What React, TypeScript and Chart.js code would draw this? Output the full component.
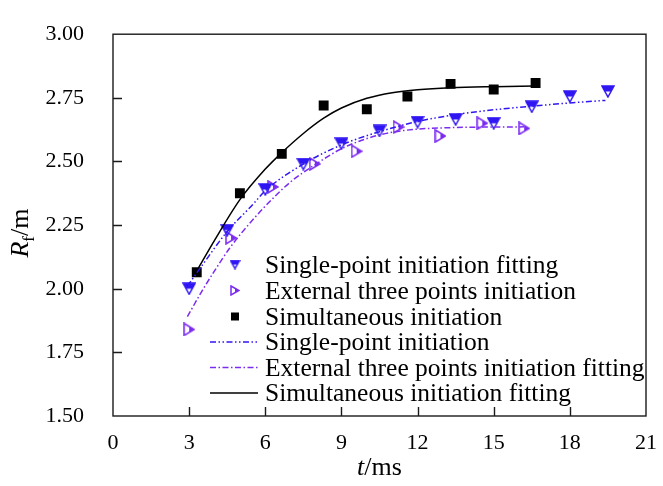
import React, { useEffect, useRef } from "react";
import { Chart, registerables } from "chart.js";

Chart.register(...registerables);

// ---- Data ----
const singleT = [3.0, 4.5, 6.0, 7.5, 9.0, 10.5, 12.0, 13.5, 15.0, 16.5, 18.0, 19.5];
const singleR = [2.0, 2.23, 2.39, 2.49, 2.57, 2.62, 2.655, 2.665, 2.65, 2.715, 2.755, 2.775];

const externalT = [3.0, 4.65, 6.3, 7.95, 9.6, 11.25, 12.9, 14.55, 16.2];
const externalR = [1.84, 2.2, 2.4, 2.49, 2.54, 2.635, 2.6, 2.65, 2.63];

const simT = [3.3, 5.0, 6.65, 8.3, 10.0, 11.6, 13.3, 15.0, 16.65];
const simR = [2.065, 2.375, 2.53, 2.72, 2.705, 2.755, 2.805, 2.783, 2.808];

const singleFitT = [2.93, 3.5, 4.5, 5.5, 6.0, 7.5, 9.0, 10.5, 12.0, 13.5, 15.0, 16.5, 18.0, 19.4];
const singleFitR = [2.01, 2.09, 2.225, 2.33, 2.385, 2.49, 2.565, 2.617, 2.657, 2.684, 2.703, 2.717, 2.73, 2.74];

const externalFitT = [2.93, 3.5, 4.0, 4.6, 5.5, 6.3, 7.0, 8.0, 9.0, 10.0, 11.0, 12.0, 13.0, 14.5, 16.2];
const externalFitR = [1.89, 1.99, 2.07, 2.16, 2.27, 2.355, 2.42, 2.49, 2.55, 2.59, 2.615, 2.627, 2.632, 2.635, 2.636];

const simFitT = [3.3, 4.0, 5.0, 6.0, 6.6, 7.5, 8.3, 9.0, 10.0, 11.0, 12.0, 13.3, 15.0, 16.6];
const simFitR = [2.07, 2.19, 2.35, 2.47, 2.53, 2.61, 2.67, 2.71, 2.748, 2.77, 2.782, 2.79, 2.794, 2.796];

const legendLabels = [
  "Single-point initiation fitting",
  "External three points initiation",
  "Simultaneous initiation",
  "Single-point initiation",
  "External three points initiation fitting",
  "Simultaneous initiation fitting",
];

const xTicks = [0, 3, 6, 9, 12, 15, 18, 21];
const yTicks = [1.5, 1.75, 2.0, 2.25, 2.5, 2.75, 3.0];

const BLUE = "#2f16f2";
const PURPLE = "#7b2cf0";
const BLACK = "#000000";
const FONT = "'Liberation Serif', 'Times New Roman', serif";
const DASH_DOT_DOT = [6, 2.5, 1.5, 2.5, 1.5, 2.5];
const DASH_DOT = [6, 2.5, 1.5, 2.5];

const pts = (xs: number[], ys: number[]) => xs.map((x, i) => ({ x, y: ys[i] }));

function downTri(w: number, h: number, color: string) {
  const c = document.createElement("canvas");
  c.width = w + 2;
  c.height = h + 2;
  const ctx = c.getContext("2d")!;
  ctx.translate(1, 1);
  ctx.fillStyle = color;
  ctx.beginPath();
  ctx.moveTo(0, 0);
  ctx.lineTo(w, 0);
  ctx.lineTo((3 * w) / 4, h / 2);
  ctx.lineTo(w / 4, h / 2);
  ctx.closePath();
  ctx.fill();
  ctx.strokeStyle = color;
  ctx.lineWidth = 1.5;
  ctx.beginPath();
  ctx.moveTo(0, 0);
  ctx.lineTo(w, 0);
  ctx.lineTo(w / 2, h);
  ctx.closePath();
  ctx.stroke();
  return c;
}

function rightTri(w: number, h: number, color: string) {
  const c = document.createElement("canvas");
  c.width = w + 2;
  c.height = h + 2;
  const ctx = c.getContext("2d")!;
  ctx.translate(1, 1);
  ctx.fillStyle = color;
  ctx.beginPath();
  ctx.moveTo(w / 2, h / 4);
  ctx.lineTo(w, h / 2);
  ctx.lineTo(w / 2, (3 * h) / 4);
  ctx.closePath();
  ctx.fill();
  ctx.strokeStyle = color;
  ctx.lineWidth = 1.5;
  ctx.beginPath();
  ctx.moveTo(0, 0);
  ctx.lineTo(w, h / 2);
  ctx.lineTo(0, h);
  ctx.closePath();
  ctx.stroke();
  return c;
}

export default function App() {
  const ref = useRef<HTMLCanvasElement>(null);

  useEffect(() => {
    const canvas = ref.current!;
    const triDown = downTri(12, 11, BLUE);
    const triRight = rightTri(10, 12, PURPLE);
    const triDownLg = downTri(9, 8, BLUE);
    const triRightLg = rightTri(8, 9, PURPLE);

    const framePlugin = {
      id: "frame",
      afterDraw(chart: any) {
        const { ctx, chartArea: a, scales } = chart;
        ctx.save();
        // frame
        ctx.strokeStyle = "#1a1a1a";
        ctx.lineWidth = 1.4;
        ctx.setLineDash([]);
        ctx.strokeRect(a.left, a.top, a.right - a.left, a.bottom - a.top);
        // inward ticks
        ctx.beginPath();
        xTicks.forEach((v) => {
          if (v === 0 || v === 21) return;
          const x = Math.round(scales.x.getPixelForValue(v)) + 0.5;
          ctx.moveTo(x, a.bottom);
          ctx.lineTo(x, a.bottom - 9);
        });
        yTicks.forEach((v) => {
          if (v === 1.5 || v === 3.0) return;
          const y = Math.round(scales.y.getPixelForValue(v)) + 0.5;
          ctx.moveTo(a.left, y);
          ctx.lineTo(a.left + 9, y);
        });
        ctx.stroke();

        // axis titles
        ctx.fillStyle = "#000";
        ctx.textBaseline = "alphabetic";
        // x title
        const xc = (a.left + a.right) / 2;
        ctx.font = `italic 26px ${FONT}`;
        const tW = ctx.measureText("t").width;
        ctx.font = `26px ${FONT}`;
        const mW = ctx.measureText("/ms").width;
        const sx = xc - (tW + mW) / 2;
        const by = 475;
        ctx.font = `italic 26px ${FONT}`;
        ctx.textAlign = "left";
        ctx.fillText("t", sx, by);
        ctx.font = `26px ${FONT}`;
        ctx.fillText("/ms", sx + tW, by);

        // y title (rotated)
        ctx.save();
        ctx.translate(28, (a.top + a.bottom) / 2 + 8);
        ctx.rotate(-Math.PI / 2);
        ctx.font = `italic 26px ${FONT}`;
        const rW = ctx.measureText("R").width;
        ctx.font = `17px ${FONT}`;
        const fW = ctx.measureText("f").width;
        ctx.font = `26px ${FONT}`;
        const slW = ctx.measureText("/m").width;
        const yx = -(rW + fW + slW) / 2;
        ctx.font = `italic 26px ${FONT}`;
        ctx.fillText("R", yx, 0);
        ctx.font = `17px ${FONT}`;
        ctx.fillText("f", yx + rW, 6);
        ctx.font = `26px ${FONT}`;
        ctx.fillText("/m", yx + rW + fW, 0);
        ctx.restore();

        // legend
        const rows = [264.5, 290.5, 316.5, 342, 367.5, 393];
        const mx = 235;
        const lx0 = 210;
        const lx1 = 258;
        const tx = 265;
        ctx.drawImage(triDownLg, mx - triDownLg.width / 2, rows[0] - triDownLg.height / 2);
        ctx.drawImage(triRightLg, mx - triRightLg.width / 2, rows[1] - triRightLg.height / 2);
        ctx.fillStyle = BLACK;
        ctx.fillRect(mx - 4, rows[2] - 4, 8, 8);
        ctx.lineWidth = 1.5;
        ctx.strokeStyle = BLUE;
        ctx.setLineDash(DASH_DOT_DOT);
        ctx.beginPath();
        ctx.moveTo(lx0, rows[3]);
        ctx.lineTo(lx1, rows[3]);
        ctx.stroke();
        ctx.strokeStyle = PURPLE;
        ctx.setLineDash(DASH_DOT);
        ctx.beginPath();
        ctx.moveTo(lx0, rows[4]);
        ctx.lineTo(lx1, rows[4]);
        ctx.stroke();
        ctx.strokeStyle = BLACK;
        ctx.setLineDash([]);
        ctx.beginPath();
        ctx.moveTo(lx0, rows[5]);
        ctx.lineTo(lx1, rows[5]);
        ctx.stroke();
        ctx.fillStyle = "#000";
        ctx.font = `25.5px ${FONT}`;
        ctx.textAlign = "left";
        ctx.textBaseline = "alphabetic";
        legendLabels.forEach((t, i) => ctx.fillText(t, tx, rows[i] + 8.3));
        ctx.restore();
      },
    };

    const chart = new Chart(canvas, {
      type: "scatter",
      data: {
        datasets: [
          {
            label: legendLabels[3],
            data: pts(singleFitT, singleFitR),
            showLine: true,
            pointRadius: 0,
            borderColor: BLUE,
            borderWidth: 1.5,
            borderDash: DASH_DOT_DOT,
            cubicInterpolationMode: "monotone",
          },
          {
            label: legendLabels[4],
            data: pts(externalFitT, externalFitR),
            showLine: true,
            pointRadius: 0,
            borderColor: PURPLE,
            borderWidth: 1.5,
            borderDash: DASH_DOT,
            cubicInterpolationMode: "monotone",
          },
          {
            label: legendLabels[5],
            data: pts(simFitT, simFitR),
            showLine: true,
            pointRadius: 0,
            borderColor: BLACK,
            borderWidth: 1.5,
            cubicInterpolationMode: "monotone",
          },
          {
            label: legendLabels[0],
            data: pts(singleT, singleR),
            pointStyle: triDown as any,
            pointRadius: 6,
            borderColor: BLUE,
            backgroundColor: BLUE,
          },
          {
            label: legendLabels[1],
            data: pts(externalT, externalR),
            pointStyle: triRight as any,
            pointRadius: 6,
            borderColor: PURPLE,
            backgroundColor: PURPLE,
          },
          {
            label: legendLabels[2],
            data: pts(simT, simR),
            pointStyle: "rect",
            pointRadius: 7,
            borderWidth: 0,
            borderColor: BLACK,
            backgroundColor: BLACK,
          },
        ],
      },
      options: {
        responsive: false,
        animation: false,
        layout: { padding: { top: 22, right: 11, left: 0, bottom: 0 } },
        plugins: { legend: { display: false }, tooltip: { enabled: false } },
        scales: {
          x: {
            type: "linear",
            min: 0,
            max: 21,
            afterFit: (s: any) => {
              s.height = 70;
            },
            afterBuildTicks: (s: any) => {
              s.ticks = xTicks.map((v) => ({ value: v }));
            },
            grid: { display: false },
            border: { display: false },
            ticks: {
              padding: 6,
              color: "#000",
              font: { family: FONT, size: 22 },
              maxRotation: 0,
              callback: (v: any) => String(v),
            },
          },
          y: {
            type: "linear",
            min: 1.5,
            max: 3.0,
            afterFit: (s: any) => {
              s.width = 113;
            },
            afterBuildTicks: (s: any) => {
              s.ticks = yTicks.map((v) => ({ value: v }));
            },
            grid: { display: false },
            border: { display: false },
            ticks: {
              padding: 21,
              color: "#000",
              font: { family: FONT, size: 22 },
              callback: (v: any) => Number(v).toFixed(2),
            },
          },
        },
      },
      plugins: [framePlugin],
    } as any);

    return () => chart.destroy();
  }, []);

  return (
    <div style={{ position: "absolute", left: 0, top: 0, width: 663, height: 486, background: "#fff" }}>
      <canvas ref={ref} width={663} height={486} style={{ display: "block" }} />
    </div>
  );
}
